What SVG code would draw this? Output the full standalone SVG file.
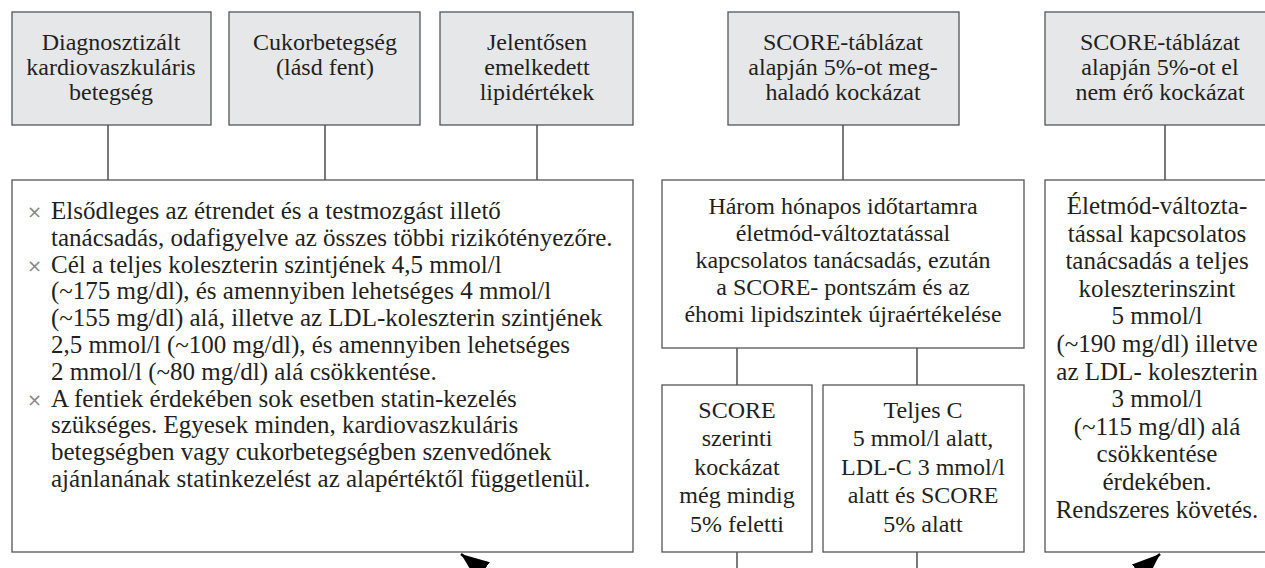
<svg xmlns="http://www.w3.org/2000/svg" width="1265" height="568" viewBox="0 0 1265 568">
<style>
.hd{fill:#e6e7e8;stroke:#555;stroke-width:1.3}
.bx{fill:#fff;stroke:#555;stroke-width:1.3}
.ln{stroke:#333;stroke-width:1.3;fill:none}
text{font-family:"Liberation Serif","DejaVu Serif",serif;font-size:24px;fill:#231f20}
.c{text-anchor:middle}
.big{font-size:25px}
.bul{fill:#888;font-family:"DejaVu Sans",sans-serif;font-size:18px}
</style>
<defs>
<marker id="ah" markerUnits="userSpaceOnUse" markerWidth="30" markerHeight="22" refX="28" refY="11" orient="auto">
<path d="M0,0 L28,11 L0,22 z" fill="#000"/>
</marker>
</defs>
<rect width="1265" height="568" fill="#fff"/>

<g id="connectors">
<line class="ln" x1="108" y1="125" x2="108" y2="180"/>
<line class="ln" x1="325" y1="125" x2="325" y2="180"/>
<line class="ln" x1="537" y1="125" x2="537" y2="180"/>
<line class="ln" x1="843" y1="125" x2="843" y2="180"/>
<line class="ln" x1="1165" y1="125" x2="1165" y2="180"/>
<line class="ln" x1="737" y1="348" x2="737" y2="385"/>
<line class="ln" x1="917" y1="348" x2="917" y2="385"/>
<line class="ln" x1="737" y1="552" x2="737" y2="570"/>
<line class="ln" x1="917" y1="552" x2="917" y2="570"/>
<line x1="504" y1="587" x2="461" y2="554" stroke="#000" stroke-width="2.5" marker-end="url(#ah)"/>
<line x1="1122" y1="588" x2="1160" y2="554" stroke="#000" stroke-width="2.5" marker-end="url(#ah)"/>
</g>

<g id="n-diag">
<rect class="hd" x="12" y="12" width="199" height="113"/>
<text class="c" x="111" y="50">Diagnosztizált</text>
<text class="c" x="111" y="75">kardiovaszkuláris</text>
<text class="c" x="111" y="100">betegség</text>
</g>
<g id="n-cukor">
<rect class="hd" x="229" y="12" width="191" height="113"/>
<text class="c" x="325" y="50">Cukorbetegség</text>
<text class="c" x="325" y="75">(lásd fent)</text>
</g>
<g id="n-lipid">
<rect class="hd" x="440" y="12" width="193" height="113"/>
<text class="c" x="537" y="50">Jelentősen</text>
<text class="c" x="537" y="75">emelkedett</text>
<text class="c" x="537" y="100">lipidértékek</text>
</g>
<g id="n-score-hi">
<rect class="hd" x="728" y="12" width="231" height="113"/>
<text class="c" x="843" y="50">SCORE-táblázat</text>
<text class="c" x="843" y="75">alapján 5%-ot meg-</text>
<text class="c" x="843" y="100">haladó kockázat</text>
</g>
<g id="n-score-lo">
<rect class="hd" x="1045" y="12" width="240" height="113"/>
<text class="c" x="1160" y="50">SCORE-táblázat</text>
<text class="c" x="1160" y="75">alapján 5%-ot el</text>
<text class="c" x="1160" y="100">nem érő kockázat</text>
</g>

<g id="n-main">
<rect class="bx" x="12" y="180" width="621" height="372"/>
<text class="bul" x="27" y="218">×</text>
<text class="big" x="51" y="219">Elsődleges az étrendet és a testmozgást illető</text>
<text class="big" x="51" y="245.8">tanácsadás, odafigyelve az összes többi rizikótényezőre.</text>
<text class="bul" x="27" y="271.6">×</text>
<text class="big" x="51" y="272.6">Cél a teljes koleszterin szintjének 4,5 mmol/l</text>
<text class="big" x="51" y="299.4">(~175 mg/dl), és amennyiben lehetséges 4 mmol/l</text>
<text class="big" x="51" y="326.2">(~155 mg/dl) alá, illetve az LDL-koleszterin szintjének</text>
<text class="big" x="51" y="353">2,5 mmol/l (~100 mg/dl), és amennyiben lehetséges</text>
<text class="big" x="51" y="379.8">2 mmol/l (~80 mg/dl) alá csökkentése.</text>
<text class="bul" x="27" y="405.6">×</text>
<text class="big" x="51" y="406.6">A fentiek érdekében sok esetben statin-kezelés</text>
<text class="big" x="51" y="433.4">szükséges. Egyesek minden, kardiovaszkuláris</text>
<text class="big" x="51" y="460.2">betegségben vagy cukorbetegségben szenvedőnek</text>
<text class="big" x="51" y="487">ajánlanának statinkezelést az alapértéktől függetlenül.</text>
</g>

<g id="n-harom">
<rect class="bx" x="662" y="180" width="362" height="168"/>
<text class="c" x="843" y="214">Három hónapos időtartamra</text>
<text class="c" x="843" y="241">életmód-változtatással</text>
<text class="c" x="843" y="268">kapcsolatos tanácsadás, ezután</text>
<text class="c" x="843" y="295">a SCORE- pontszám és az</text>
<text class="c" x="843" y="322">éhomi lipidszintek újraértékelése</text>
</g>

<g id="n-still">
<rect class="bx" x="662" y="385" width="150" height="167"/>
<text class="c" x="737" y="417.5">SCORE</text>
<text class="c" x="737" y="446">szerinti</text>
<text class="c" x="737" y="474.5">kockázat</text>
<text class="c" x="737" y="503">még mindig</text>
<text class="c" x="737" y="531.5">5% feletti</text>
</g>

<g id="n-ok">
<rect class="bx" x="823" y="385" width="201" height="167"/>
<text class="c" x="923" y="417.5">Teljes C</text>
<text class="c" x="923" y="446">5 mmol/l alatt,</text>
<text class="c" x="923" y="474.5">LDL-C 3 mmol/l</text>
<text class="c" x="923" y="503">alatt és SCORE</text>
<text class="c" x="923" y="531.5">5% alatt</text>
</g>

<g id="n-eletmod">
<rect class="bx" x="1045" y="180" width="240" height="372"/>
<text class="c big" x="1157" y="214">Életmód-változta-</text>
<text class="c big" x="1157" y="241.6">tással kapcsolatos</text>
<text class="c big" x="1157" y="269.2">tanácsadás a teljes</text>
<text class="c big" x="1157" y="296.8">koleszterinszint</text>
<text class="c big" x="1157" y="324.4">5 mmol/l</text>
<text class="c big" x="1157" y="352">(~190 mg/dl) illetve</text>
<text class="c big" x="1157" y="379.6">az LDL- koleszterin</text>
<text class="c big" x="1157" y="407.2">3 mmol/l</text>
<text class="c big" x="1157" y="434.8">(~115 mg/dl) alá</text>
<text class="c big" x="1157" y="462.4">csökkentése</text>
<text class="c big" x="1157" y="490">érdekében.</text>
<text class="c big" x="1157" y="517.6">Rendszeres követés.</text>
</g>
</svg>
